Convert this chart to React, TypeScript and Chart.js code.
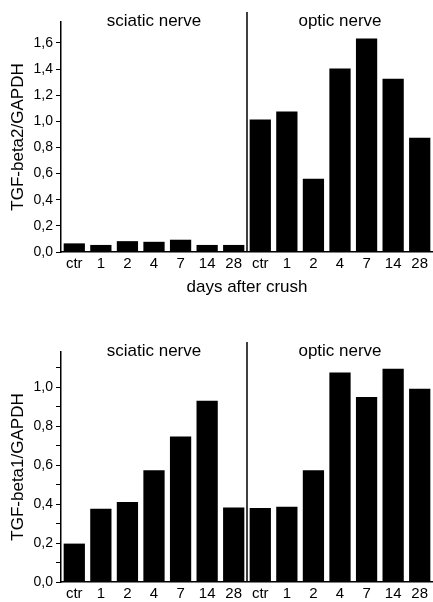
import React, { useEffect, useRef } from "react";
import { Chart, registerables } from "chart.js";

Chart.register(...registerables);

// ---- data ----
const days = ["ctr", "1", "2", "4", "7", "14", "28"];
const sectionNames = ["sciatic nerve", "optic nerve"];

const tgfb2Sciatic = [0.066, 0.054, 0.083, 0.078, 0.094, 0.054, 0.054];
const tgfb2Optic = [1.013, 1.075, 0.56, 1.405, 1.633, 1.326, 0.875];

const tgfb1Sciatic = [0.197, 0.376, 0.41, 0.573, 0.746, 0.93, 0.382];
const tgfb1Optic = [0.38, 0.386, 0.573, 1.075, 0.949, 1.094, 0.992];

const FONT = "'Liberation Sans', Arial, Helvetica, sans-serif";

const sectionPlugin = {
  id: "sections",
  afterDatasetsDraw(chart: any, _args: any, opts: any) {
    const { ctx, chartArea, scales } = chart;
    const x = scales.x;
    const split = opts.splitIndex;
    const xDiv = (x.getPixelForValue(split - 1) + x.getPixelForValue(split)) / 2;
    ctx.save();
    ctx.strokeStyle = "#000";
    ctx.lineWidth = 1.5;
    ctx.beginPath();
    ctx.moveTo(xDiv, chartArea.top - 10);
    ctx.lineTo(xDiv, chartArea.bottom);
    ctx.stroke();
    ctx.fillStyle = "#000";
    ctx.font = `17px ${FONT}`;
    ctx.textAlign = "center";
    ctx.textBaseline = "alphabetic";
    const names = opts.names as string[];
    ctx.fillText(names[0], (chartArea.left + xDiv) / 2, chartArea.top + 4);
    ctx.fillText(names[1], (xDiv + chartArea.right) / 2, chartArea.top + 4);
    ctx.restore();
  },
};

const yTickLabel = (v: any) => {
  const n = Math.round(Number(v) * 10);
  return n % 2 === 0 ? (n / 10).toFixed(1).replace(".", ",") : "";
};

function BarPanel(props: {
  values: number[];
  yMax: number;
  yTitle: string;
  xTitle?: string;
  height: number;
  padTop: number;
  xAxisHeight: number;
}) {
  const ref = useRef<HTMLCanvasElement>(null);
  useEffect(() => {
    const labels = [...days, ...days];
    const chart = new Chart(ref.current!, {
      type: "bar",
      data: {
        labels,
        datasets: [
          {
            data: props.values,
            backgroundColor: "#000",
            borderWidth: 0,
            barPercentage: 0.8,
            categoryPercentage: 1,
          },
        ],
      },
      options: {
        responsive: false,
        animation: false,
        layout: { padding: { top: props.padTop, left: 0, right: 0, bottom: 0 } },
        plugins: {
          legend: { display: false },
          tooltip: { enabled: false },
          sections: { splitIndex: days.length, names: sectionNames },
        } as any,
        scales: {
          x: {
            type: "category",
            grid: { display: false, drawTicks: false, tickLength: 0 },
            border: { display: true, color: "#000", width: 1.5 },
            ticks: {
              color: "#000",
              font: { family: FONT, size: 15 },
              padding: 3,
              autoSkip: false,
              maxRotation: 0,
              minRotation: 0,
            },
            title: {
              display: !!props.xTitle,
              text: props.xTitle || "",
              color: "#000",
              font: { family: FONT, size: 17 },
              padding: { top: 2, bottom: 2 },
            },
            afterFit: (s: any) => {
              s.height = props.xAxisHeight;
            },
          },
          y: {
            type: "linear",
            min: 0,
            max: props.yMax,
            grid: {
              display: true,
              drawOnChartArea: false,
              drawTicks: true,
              tickLength: 5,
              color: "#000",
              lineWidth: 1,
            },
            border: { display: true, color: "#000", width: 1.5 },
            ticks: {
              stepSize: 0.1,
              maxTicksLimit: 100,
              includeBounds: false,
              color: "#000",
              font: { family: FONT, size: 14 },
              padding: 3,
              callback: yTickLabel,
            },
            title: {
              display: true,
              text: props.yTitle,
              color: "#000",
              font: { family: FONT, size: 17 },
              padding: { top: 8, bottom: 8 },
            },
            afterFit: (s: any) => {
              s.width = 61;
            },
          },
        },
      },
      plugins: [sectionPlugin as any],
    });
    return () => chart.destroy();
  }, []);
  return (
    <canvas
      ref={ref}
      width={433}
      height={props.height}
      style={{ display: "block", width: 433, height: props.height }}
    />
  );
}

export default function App() {
  return (
    <div style={{ position: "absolute", left: 0, top: 0, width: 433, height: 602, background: "#fff" }}>
      <BarPanel
        values={[...tgfb2Sciatic, ...tgfb2Optic]}
        yMax={1.76}
        yTitle="TGF-beta2/GAPDH"
        xTitle="days after crush"
        height={300}
        padTop={22}
        xAxisHeight={48}
      />
      <BarPanel
        values={[...tgfb1Sciatic, ...tgfb1Optic]}
        yMax={1.18}
        yTitle="TGF-beta1/GAPDH"
        height={302}
        padTop={52}
        xAxisHeight={20}
      />
    </div>
  );
}
